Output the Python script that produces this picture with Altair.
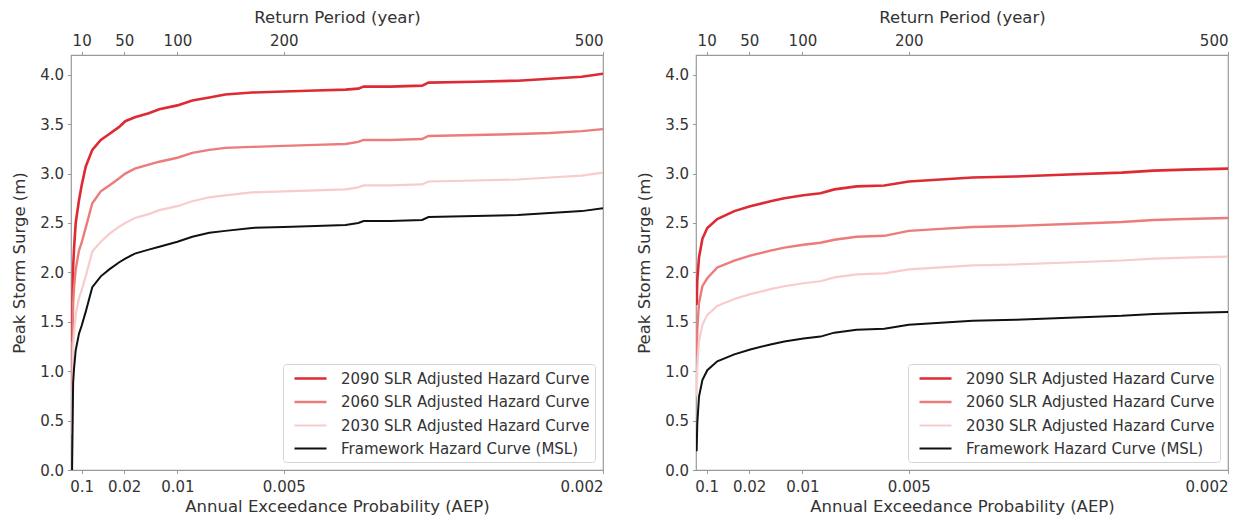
import altair as alt
import pandas as pd

series = [
    "2090 SLR Adjusted Hazard Curve",
    "2060 SLR Adjusted Hazard Curve",
    "2030 SLR Adjusted Hazard Curve",
    "Framework Hazard Curve (MSL)",
]
colors = ["#dd2a33", "#ec7b7b", "#f8cccc", "#111111"]
widths = [2.6, 2.0, 1.6, 2.6]

rp_ticks = [10, 50, 100, 200, 500]
aep_labels = ["0.1", "0.02", "0.01", "0.005", "0.002"]
y_ticks = [0.0, 0.5, 1.0, 1.5, 2.0, 2.5, 3.0, 3.5, 4.0]

# Left panel (return period, years)
rp_left = [1, 1.5, 2, 2.8, 4.4, 7.5, 10, 13.8, 20, 28, 36, 45, 51, 60, 73, 83, 100,
           114, 130, 145, 170, 200, 230, 258, 270, 275, 300, 330, 336, 380, 420,
           450, 480, 500]
s2090_left = [1.30, 1.75, 2.05, 2.23, 2.50, 2.73, 2.88, 3.07, 3.24, 3.34, 3.40, 3.47,
              3.53, 3.57, 3.61, 3.65, 3.69, 3.74, 3.77, 3.80, 3.82, 3.83, 3.84, 3.85,
              3.86, 3.88, 3.88, 3.89, 3.92, 3.93, 3.94, 3.96, 3.98, 4.01]
s2060_left = [0.80, 1.25, 1.68, 1.84, 2.03, 2.22, 2.30, 2.45, 2.70, 2.82, 2.88, 2.95,
              3.00, 3.05, 3.09, 3.12, 3.16, 3.21, 3.24, 3.26, 3.27, 3.28, 3.29, 3.30,
              3.32, 3.34, 3.34, 3.35, 3.38, 3.39, 3.40, 3.41, 3.43, 3.45]
s2030_left = [0.36, 0.81, 1.24, 1.38, 1.57, 1.74, 1.82, 1.96, 2.21, 2.31, 2.39, 2.46,
              2.50, 2.55, 2.59, 2.63, 2.67, 2.72, 2.76, 2.78, 2.81, 2.82, 2.83, 2.84,
              2.86, 2.88, 2.88, 2.89, 2.92, 2.93, 2.94, 2.96, 2.98, 3.01]
msl_left = [0.00, 0.45, 0.88, 1.02, 1.21, 1.38, 1.46, 1.60, 1.85, 1.96, 2.03, 2.10,
            2.14, 2.19, 2.23, 2.26, 2.31, 2.36, 2.40, 2.42, 2.45, 2.46, 2.47, 2.48,
            2.50, 2.52, 2.52, 2.53, 2.56, 2.57, 2.58, 2.60, 2.62, 2.65]

# Right panel
rp_right = [0.6, 1.2, 2.8, 6, 10.6, 20, 36, 51, 70, 83, 101, 117, 130, 151, 177, 200,
            230, 260, 300, 350, 400, 430, 460, 500]
s2090_right = [1.67, 1.92, 2.15, 2.34, 2.45, 2.54, 2.62, 2.67, 2.72, 2.75, 2.78, 2.80,
               2.84, 2.87, 2.88, 2.92, 2.94, 2.96, 2.97, 2.99, 3.01, 3.03, 3.04, 3.05]
s2060_right = [1.15, 1.42, 1.69, 1.86, 1.94, 2.05, 2.12, 2.17, 2.22, 2.25, 2.28, 2.30,
               2.33, 2.36, 2.37, 2.42, 2.44, 2.46, 2.47, 2.49, 2.51, 2.53, 2.54, 2.55]
s2030_right = [0.75, 1.03, 1.30, 1.47, 1.57, 1.66, 1.73, 1.78, 1.83, 1.86, 1.89, 1.91,
               1.95, 1.98, 1.99, 2.03, 2.05, 2.07, 2.08, 2.10, 2.12, 2.14, 2.15, 2.16]
msl_right = [0.19, 0.47, 0.74, 0.91, 1.01, 1.10, 1.17, 1.22, 1.27, 1.30, 1.33, 1.35,
             1.39, 1.42, 1.43, 1.47, 1.49, 1.51, 1.52, 1.54, 1.56, 1.58, 1.59, 1.60]


def make_df(rp, curves):
    rows = []
    for name, vals in zip(series, curves):
        for r, v in zip(rp, vals):
            rows.append({"rp": r, "surge": v, "series": name})
    return pd.DataFrame(rows)


label_expr = " : ".join(
    f"datum.value == {v} ? '{l}'" for v, l in zip(rp_ticks, aep_labels)
) + " : ''"

FONT = "DejaVu Sans"
x_scale = alt.Scale(domain=[0, 500], nice=False, zero=False)
y_scale = alt.Scale(domain=[0, 4.2], nice=False)

legend_kw = dict(
    title=None, orient="bottom-right", offset=8,
    symbolType="M-2,0H2", symbolSize=256,
    labelFontSize=15, labelFont=FONT, labelColor="#333333",
    labelOffset=21, rowPadding=5.5, padding=5, symbolOffset=13,
    strokeColor="#d4d4d4", fillColor="white", cornerRadius=3, labelLimit=400,
)


def panel(df):
    lines = alt.Chart(df).mark_line(clip=True).encode(
        x=alt.X("rp:Q", scale=x_scale,
                axis=alt.Axis(orient="bottom", values=rp_ticks, labelExpr=label_expr,
                              title="Annual Exceedance Probability (AEP)",
                              labelPadding=6, titlePadding=4)),
        y=alt.Y("surge:Q", scale=y_scale,
                axis=alt.Axis(values=y_ticks, format=".1f",
                              title="Peak Storm Surge (m)",
                              labelPadding=4, titlePadding=12)),
        color=alt.Color("series:N", sort=series,
                        scale=alt.Scale(domain=series, range=colors),
                        legend=alt.Legend(**legend_kw)),
        strokeWidth=alt.StrokeWidth("series:N", sort=series,
                                    scale=alt.Scale(domain=series, range=widths),
                                    legend=alt.Legend(**legend_kw)),
    )
    top = alt.Chart(pd.DataFrame({"rp": rp_ticks})).mark_rule(opacity=0).encode(
        x=alt.X("rp:Q", scale=x_scale,
                axis=alt.Axis(orient="top", values=rp_ticks, format="d",
                              title="Return Period (year)",
                              labelPadding=3, titlePadding=8)),
    )
    return alt.layer(lines, top).resolve_axis(x="independent").properties(
        width=532, height=415)


left = panel(make_df(rp_left, [s2090_left, s2060_left, s2030_left, msl_left]))
right = panel(make_df(rp_right, [s2090_right, s2060_right, s2030_right, msl_right]))

chart = alt.hconcat(left, right, spacing=31).resolve_scale(
    color="independent", strokeWidth="independent"
).resolve_legend(
    color="independent", strokeWidth="independent"
).properties(
    padding={"left": 3, "top": 0, "right": 2, "bottom": 0}
).configure_view(
    stroke="#999999", strokeWidth=1.2
).configure_axis(
    domain=False, grid=False, ticks=True, tickColor="#999999", tickSize=3.5,
    labelFont=FONT, labelFontSize=15, labelColor="#333333",
    titleFont=FONT, titleFontSize=16.5, titleFontWeight="normal", titleColor="#333333",
)

chart.save("out.html", embed_options={"renderer": "svg", "actions": False})
